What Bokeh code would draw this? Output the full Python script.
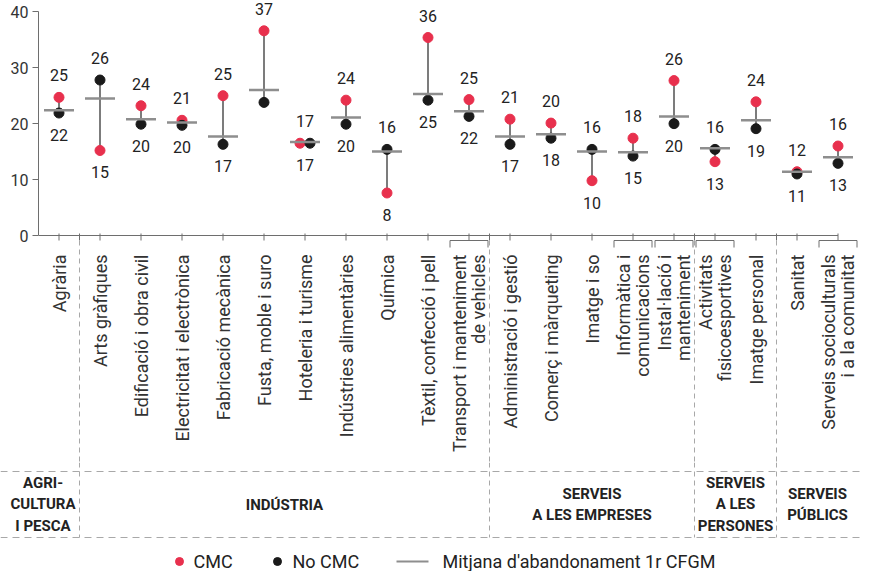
import math
from bokeh.plotting import figure
from bokeh.models import ColumnDataSource, Range1d, FixedTicker
from bokeh.layouts import column
from bokeh.embed import file_html
from bokeh.resources import INLINE
from bokeh.core.properties import value

# ---------------- data ----------------
categories = [
    "Agrària", "Arts gràfiques", "Edificació i obra civil", "Electricitat i electrònica",
    "Fabricació mecànica", "Fusta, moble i suro", "Hoteleria i turisme",
    "Indústries alimentàries", "Química", "Tèxtil, confecció i pell",
    "Transport i manteniment\nde vehicles", "Administració i gestió", "Comerç i màrqueting",
    "Imatge i so", "Informàtica i\ncomunicacions", "Instal·lació i\nmanteniment",
    "Activitats\nfisicoesportives", "Imatge personal", "Sanitat",
    "Serveis socioculturals\ni a la comunitat",
]
cmc = [24.7, 15.2, 23.2, 20.6, 25.0, 36.6, 16.5, 24.2, 7.6, 35.4,
       24.3, 20.8, 20.1, 9.8, 17.4, 27.7, 13.2, 23.9, 11.4, 16.0]
no_cmc = [21.9, 27.8, 19.9, 19.7, 16.3, 23.8, 16.5, 19.9, 15.4, 24.2,
          21.3, 16.3, 17.4, 15.4, 14.2, 20.0, 15.4, 19.1, 11.0, 12.9]
mean_abandon = [22.4, 24.5, 20.8, 20.2, 17.7, 26.0, 16.7, 21.1, 15.0, 25.3,
                22.2, 17.7, 18.1, 15.0, 14.9, 21.3, 15.6, 20.6, 11.4, 14.0]
cmc_labels = ["25", "15", "24", "21", "25", "37", "17", "24", "8", "36",
              "25", "21", "20", "10", "18", "26", "13", "24", "12", "16"]
no_cmc_labels = ["22", "26", "20", "20", "17", "", "17", "20", "16", "25",
                 "22", "17", "18", "16", "15", "20", "16", "19", "11", "13"]
groups = ["AGRI-\nCULTURA\nI PESCA", "INDÚSTRIA", "SERVEIS\nA LES EMPRESES",
          "SERVEIS\nA LES\nPERSONES", "SERVEIS\nPÚBLICS"]
group_sizes = [1, 10, 5, 2, 2]
y_ticks = [0, 10, 20, 30, 40]
legend_labels = ["CMC", "No CMC", "Mitjana d'abandonament 1r CFGM"]

# ---------------- style / geometry ----------------
FONT = "Roboto"
RED = "#E8304D"
BLACK = "#1A1A1A"
MEANC = "#8E8E8E"
STEM = "#505050"
TEXT = "#333333"
AXIS = "#6E6E6E"
DASH = "#A8A8A8"

W = 860
LEFT = 38          # left border of main plot (y axis)
PX_X = 41.0        # px per category
PX_Y = 5.5925      # px per unit of value
Y0 = 235           # px from top of p1 to value 0
H1 = 462
H2 = 109

n = len(categories)
xs = list(range(n))

x1_start = -0.5
x1_end = x1_start + (W - LEFT) / PX_X
x2_start = x1_start - LEFT / PX_X
y1_top = Y0 / PX_Y
y1_bot = -(H1 - Y0) / PX_Y


def px2x(px):
    return (px - LEFT) / PX_X - 0.5


# separators between groups
seps = []
acc = 0
for s in group_sizes[:-1]:
    acc += s
    seps.append(acc - 0.5)

# ---------------- main plot ----------------
p1 = figure(width=W, height=H1, x_range=Range1d(x1_start, x1_end),
            y_range=Range1d(y1_bot, y1_top), output_backend="svg",
            toolbar_location=None, x_axis_type=None,
            min_border_left=LEFT, min_border_right=0, min_border_top=0, min_border_bottom=0)
p1.outline_line_color = None
p1.grid.visible = False
p1.frame_align = False

ya = p1.yaxis[0]
ya.ticker = FixedTicker(ticks=y_ticks)
ya.bounds = (y_ticks[0], y_ticks[-1])
ya.minor_tick_line_color = None
ya.major_tick_out = 6
ya.major_tick_in = 0
ya.axis_line_color = AXIS
ya.major_tick_line_color = AXIS
ya.major_label_text_font = FONT
ya.major_label_text_font_size = "16px"
ya.major_label_text_color = TEXT
ya.major_label_standoff = 4

# x baseline and ticks
p1.segment(x0=[x1_start], y0=[0], x1=[n - 1], y1=[0], line_color=AXIS, line_width=1)
tick_pos = xs + seps
p1.segment(x0=tick_pos, y0=[2 / PX_Y] * len(tick_pos), x1=tick_pos,
           y1=[-5 / PX_Y] * len(tick_pos), line_color=AXIS, line_width=1)

# brackets for two-line labels
half = 19 / PX_X
bx = [i for i, c in enumerate(categories) if "\n" in c]
p1.segment(x0=[i - half for i in bx], y0=[-5 / PX_Y] * len(bx),
           x1=[i + half for i in bx], y1=[-5 / PX_Y] * len(bx), line_color=AXIS, line_width=1)
ends = [i - half for i in bx] + [i + half for i in bx]
p1.segment(x0=ends, y0=[-5 / PX_Y] * len(ends), x1=ends, y1=[-12 / PX_Y] * len(ends),
           line_color=AXIS, line_width=1)

# dashed separators
p1.segment(x0=seps, y0=[-5 / PX_Y] * len(seps), x1=seps, y1=[y1_bot] * len(seps),
           line_color=DASH, line_width=1, line_dash="5 4")

# stems
p1.segment(x0=xs, y0=cmc, x1=xs, y1=no_cmc, line_color=STEM, line_width=1.5)

# dots (side by side when values coincide)
dodge = [5 / PX_X if abs(a - b) < 0.3 else 0 for a, b in zip(cmc, no_cmc)]
p1.scatter(x=[x - d for x, d in zip(xs, dodge)], y=cmc, size=10, marker="circle",
           fill_color=RED, line_color=RED)
p1.scatter(x=[x + d for x, d in zip(xs, dodge)], y=no_cmc, size=10, marker="circle",
           fill_color=BLACK, line_color=BLACK)

# mean lines
mh = 15 / PX_X
p1.segment(x0=[x - mh for x in xs], y0=mean_abandon, x1=[x + mh for x in xs], y1=mean_abandon,
           line_color=MEANC, line_width=2.5)

# value labels
top_y, top_t, bot_y, bot_t = [], [], [], []
for c, nc, cl, nl in zip(cmc, no_cmc, cmc_labels, no_cmc_labels):
    if c >= nc:
        top_y.append(c); top_t.append(cl); bot_y.append(nc); bot_t.append(nl)
    else:
        top_y.append(nc); top_t.append(nl); bot_y.append(c); bot_t.append(cl)
src_top = ColumnDataSource(dict(x=xs, y=top_y, t=top_t))
src_bot = ColumnDataSource(dict(x=xs, y=bot_y, t=bot_t))
for src, off in ((src_top, -22), (src_bot, 22)):
    p1.text(x="x", y="y", text="t", source=src, y_offset=off, text_align="center",
            text_baseline="middle", text_font=value(FONT), text_font_size="16px",
            text_color="#222222")

# category labels (rotated)
p1.text(x=xs, y=[0] * n, text=categories, angle=math.pi / 2, y_offset=19,
        text_align="right", text_baseline="middle", text_font=value(FONT),
        text_font_size="18px", text_color=TEXT, text_line_height=0.9)

# ---------------- group table + legend ----------------
TOP = H1
BOT = H1 + H2
p2 = figure(width=W, height=H2, x_range=Range1d(x2_start, x1_end),
            y_range=Range1d(BOT, TOP), output_backend="svg", toolbar_location=None,
            x_axis_type=None, y_axis_type=None,
            min_border_left=0, min_border_right=0, min_border_top=0, min_border_bottom=0)
p2.outline_line_color = None
p2.grid.visible = False
p2.frame_align = False

line_top, line_bot = 471, 537
p2.segment(x0=[x2_start] * 2, y0=[line_top, line_bot], x1=[x1_end] * 2, y1=[line_top, line_bot],
           line_color=DASH, line_width=1, line_dash="7 5")
p2.segment(x0=seps, y0=[TOP] * len(seps), x1=seps, y1=[line_bot] * len(seps),
           line_color=DASH, line_width=1, line_dash="5 4")

bounds = [px2x(6)] + seps + [n - 0.5]
gcx = [(bounds[i] + bounds[i + 1]) / 2 for i in range(len(groups))]
p2.text(x=gcx, y=[(line_top + line_bot) / 2] * len(groups), text=groups,
        text_align="center", text_baseline="middle", text_font=value(FONT),
        text_font_style="bold", text_font_size="15px", text_color="#222222",
        text_line_height=1.2)

LY = 561
p2.scatter(x=[px2x(179), px2x(277)], y=[LY, LY], size=8, marker="circle",
           fill_color=[RED, BLACK], line_color=[RED, BLACK])
p2.segment(x0=[px2x(396)], y0=[LY], x1=[px2x(428)], y1=[LY],
           line_color=MEANC, line_width=2)
p2.text(x=[px2x(193), px2x(292), px2x(442)], y=[LY] * 3, text=legend_labels,
        text_align="left", text_baseline="middle", text_font=value(FONT),
        text_font_size="18px", text_color="#222222")

layout = column(p1, p2, spacing=0)
open("out.html", "w").write(file_html(layout, INLINE))
